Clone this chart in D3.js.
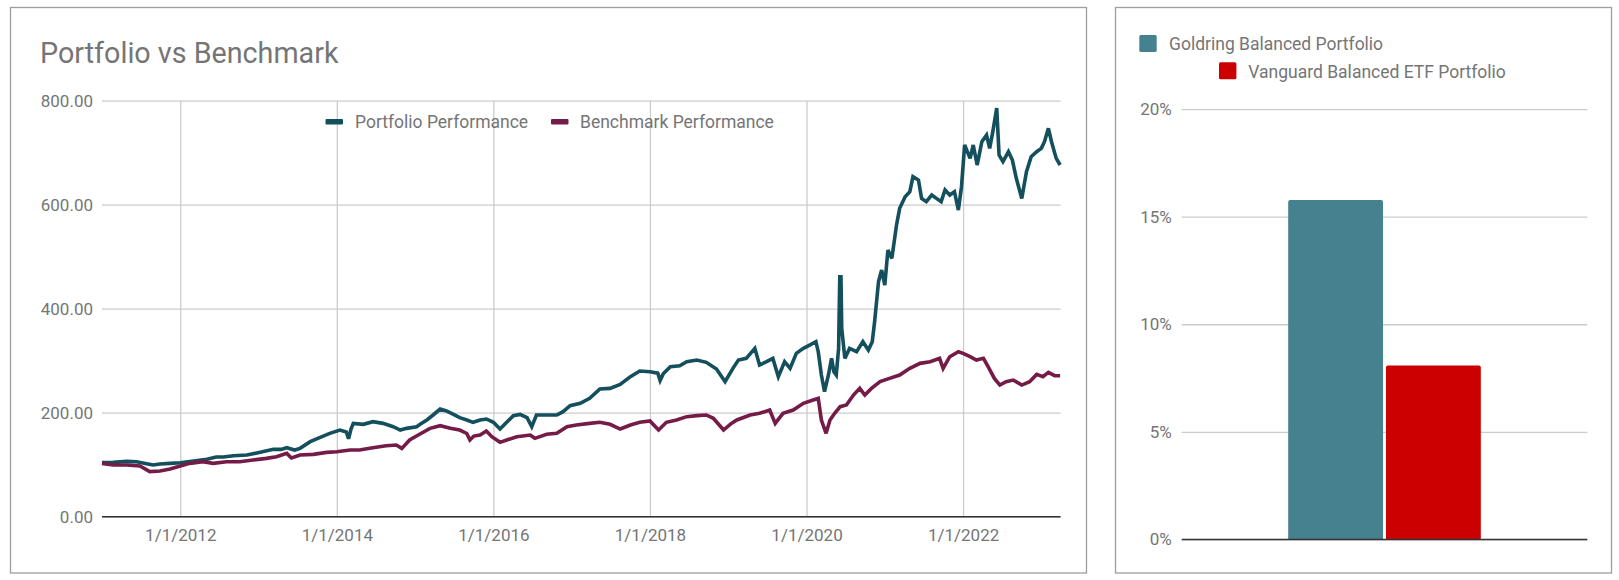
<!DOCTYPE html>
<html>
<head>
<meta charset="utf-8">
<script src="https://cdn.jsdelivr.net/npm/d3@7"></script>
<style>
  html, body { margin: 0; padding: 0; background: #fff; }
  svg { display: block; font-family: Roboto, "Noto Sans", sans-serif; }
</style>
</head>
<body>
<svg id="chart" width="1619" height="580"></svg>
<script>
// ---------- DATA ----------
const lineTitle = "Portfolio vs Benchmark";
const lineSeriesNames = ["Portfolio Performance", "Benchmark Performance"];
const yTicksLine = [0, 200, 400, 600, 800];
const xTickYears = [2012, 2014, 2016, 2018, 2020, 2022];
const xDomainYears = [2011.0, 2023.246];   // first and last trading day (decimal years)

// [decimal year, value]
const portfolio = [
  [2011.0,103.9],[2011.145,104.5],[2011.315,106.4],[2011.44,105.8],[2011.57,102],[2011.655,99.4],
  [2011.74,101.3],[2011.87,102.6],[2012.0,103.9],[2012.17,107.1],[2012.34,110.3],[2012.46,114.8],
  [2012.55,114.8],[2012.68,117.3],[2012.85,118.6],[2013.02,123.8],[2013.19,129.5],[2013.29,129.5],
  [2013.36,132.7],[2013.46,128.2],[2013.53,131.4],[2013.66,144.3],[2013.78,152],[2013.91,160.3],
  [2014.04,166.7],[2014.12,163],[2014.15,150],[2014.18,168],[2014.21,179.5],[2014.34,177.6],
  [2014.46,182.7],[2014.59,179.5],[2014.72,173.1],[2014.81,166.7],[2014.89,169.9],[2015.02,173.1],
  [2015.064,177.6],[2015.15,186],[2015.23,195.6],[2015.32,207.1],[2015.40,203.3],[2015.49,196.8],
  [2015.57,190.4],[2015.66,186],[2015.74,181.5],[2015.83,186],[2015.91,187.9],[2016.0,181.5],
  [2016.085,168.6],[2016.17,181.5],[2016.255,194.3],[2016.34,196.8],[2016.43,190.4],[2016.49,173.1],
  [2016.55,195.6],[2016.68,195.6],[2016.81,195.6],[2016.89,202],[2016.98,213.5],[2017.11,218],
  [2017.23,227.6],[2017.36,245.6],[2017.49,246.8],[2017.62,254.5],[2017.75,269.3],[2017.87,280.2],
  [2018.0,278.9],[2018.1,276],[2018.13,262],[2018.17,275],[2018.26,288.5],[2018.38,290.4],
  [2018.47,298.1],[2018.60,301.3],[2018.72,296.8],[2018.85,284],[2018.96,259.7],[2019.06,285.3],
  [2019.13,301.3],[2019.23,304.5],[2019.34,323.7],[2019.40,291.7],[2019.49,298.1],[2019.57,304.5],
  [2019.64,269.3],[2019.72,298.1],[2019.79,285.3],[2019.87,314.1],[2019.96,323.7],[2020.04,330.1],
  [2020.12,336.6],[2020.15,317.3],[2020.19,272.5],[2020.23,240.4],[2020.28,272.5],[2020.32,304.5],
  [2020.35,278.9],[2020.38,272.5],[2020.41,323.7],[2020.425,461.5],[2020.44,461.5],[2020.45,362.2],
  [2020.49,304.5],[2020.55,323.7],[2020.64,317.3],[2020.72,336.6],[2020.79,320.5],[2020.84,336.6],
  [2020.87,375],[2020.92,452],[2020.96,474.4],[2021.0,445.5],[2021.04,512.8],[2021.09,496.8],
  [2021.15,560.9],[2021.19,593],[2021.26,615.4],[2021.32,625],[2021.36,653.9],[2021.43,647.4],
  [2021.47,612.2],[2021.53,605.8],[2021.60,618.6],[2021.66,612.2],[2021.72,605.8],[2021.77,628.2],
  [2021.83,618.6],[2021.89,625],[2021.94,589.8],[2021.98,634.6],[2022.02,714.8],[2022.09,689.1],
  [2022.13,714.8],[2022.18,676.3],[2022.24,721.2],[2022.30,734],[2022.34,708.3],[2022.38,740.4],
  [2022.43,786],[2022.46,695.5],[2022.51,682.7],[2022.58,701.9],[2022.63,685.9],[2022.68,650.7],
  [2022.75,612],[2022.81,663.5],[2022.87,692.3],[2022.94,701.9],[2023.0,708.3],[2023.04,721.2],
  [2023.09,746.8],[2023.13,721.2],[2023.19,689.1],[2023.24,676.3]
];

const benchmark = [
  [2011.0,102.6],[2011.145,99.4],[2011.315,99.4],[2011.485,97.5],[2011.61,86.6],[2011.74,87.9],
  [2011.87,91.7],[2012.0,97.5],[2012.12,102.6],[2012.29,105.8],[2012.42,102.6],[2012.59,105.8],
  [2012.76,105.8],[2012.93,109],[2013.10,112.2],[2013.23,115.4],[2013.36,121.8],[2013.42,113],
  [2013.53,118.6],[2013.70,119.9],[2013.87,123.7],[2014.0,125],[2014.17,128.2],[2014.29,128.2],
  [2014.46,132.7],[2014.63,136.6],[2014.76,137.9],[2014.83,131.4],[2014.93,147.5],[2015.04,157.1],
  [2015.19,169.9],[2015.32,175],[2015.45,169.9],[2015.57,166.7],[2015.66,160],[2015.70,147.5],
  [2015.75,155],[2015.83,157.1],[2015.91,164.8],[2015.98,153.9],[2016.085,143],[2016.17,147.5],
  [2016.30,153.9],[2016.47,157.1],[2016.53,150.7],[2016.68,158.4],[2016.81,160.3],[2016.94,173.1],
  [2017.06,176.3],[2017.23,179.5],[2017.36,181.5],[2017.49,177.6],[2017.62,168.6],[2017.75,176.3],
  [2017.87,181.5],[2018.0,184],[2018.11,166.7],[2018.21,181.5],[2018.34,186],[2018.47,192.4],
  [2018.60,194.3],[2018.72,195.6],[2018.81,189.2],[2018.94,166.7],[2019.04,179.5],[2019.11,186],
  [2019.28,195.6],[2019.40,198.8],[2019.53,205.2],[2019.60,179.5],[2019.70,198.8],[2019.83,205.2],
  [2019.96,218],[2020.085,224.4],[2020.15,227.6],[2020.19,185.9],[2020.25,160.3],[2020.30,185.9],
  [2020.36,198.8],[2020.43,211.6],[2020.51,214.8],[2020.60,234],[2020.68,246.8],[2020.745,234],
  [2020.83,246.8],[2020.94,259.7],[2021.06,266],[2021.19,272.5],[2021.32,285.3],[2021.45,294.9],
  [2021.58,298.1],[2021.70,304.5],[2021.745,285.3],[2021.83,307.7],[2021.94,317.3],[2022.0,314.1],
  [2022.09,307.7],[2022.17,301.3],[2022.26,304.5],[2022.32,288.5],[2022.40,266],[2022.47,253.2],
  [2022.55,259.7],[2022.64,262.8],[2022.75,253.2],[2022.85,259.7],[2022.94,273.7],[2023.02,269.3],
  [2023.09,277.6],[2023.17,271.2],[2023.24,271.2]
];

const barSeries = ["Goldring Balanced Portfolio", "Vanguard Balanced ETF Portfolio"];
const barValues = [15.78, 8.08];
const yTicksBar = [0, 5, 10, 15, 20];

// ---------- STYLE ----------
const textColor = "#757575";
const gridColor = "#cccccc";
const lineColors = ["#134f5c", "#741b47"];
const barColors = ["#45818e", "#cc0000"];
const borderColor = "#9e9e9e";

const svg = d3.select("#chart");

// panel borders
svg.append("rect").attr("x", 10.5).attr("y", 7.5).attr("width", 1076).attr("height", 565.5)
  .attr("fill", "#fff").attr("stroke", borderColor).attr("stroke-width", 1.3);
svg.append("rect").attr("x", 1115.5).attr("y", 7.5).attr("width", 496).attr("height", 565.5)
  .attr("fill", "#fff").attr("stroke", borderColor).attr("stroke-width", 1.3);

// ---------- LINE CHART ----------
const L = { left: 102, right: 1060.6, top: 100.7, bottom: 516.7 };
const x = d3.scaleLinear().domain(xDomainYears).range([L.left, L.right]);
const y = d3.scaleLinear().domain([0, 800]).range([L.bottom, L.top]);

const gL = svg.append("g");

gL.append("text").attr("x", 40).attr("y", 63).attr("font-size", 28.7).attr("fill", textColor)
  .text(lineTitle);

const yAxisL = d3.axisLeft(y).tickValues(yTicksLine).tickSize(-(L.right - L.left))
  .tickPadding(9).tickFormat(d3.format(".2f"));
gL.append("g").attr("transform", `translate(${L.left},0)`).call(yAxisL)
  .call(g => g.select(".domain").remove())
  .call(g => g.selectAll("line").attr("stroke", gridColor).attr("stroke-width", 1.3))
  .call(g => g.selectAll("text").attr("fill", textColor).attr("font-size", 17)
    .attr("font-family", "Roboto"));

const xAxisL = d3.axisBottom(x).tickValues(xTickYears)
  .tickSize(-(L.bottom - L.top)).tickPadding(12).tickFormat(d => "1/1/" + d);
gL.append("g").attr("transform", `translate(0,${L.bottom})`).call(xAxisL)
  .call(g => g.select(".domain").remove())
  .call(g => g.selectAll("line").attr("stroke", gridColor).attr("stroke-width", 1.3))
  .call(g => g.selectAll("text").attr("fill", textColor).attr("font-size", 17)
    .attr("font-family", "Roboto"));

gL.append("line").attr("x1", L.left).attr("x2", L.right)
  .attr("y1", y(0)).attr("y2", y(0)).attr("stroke", "#333").attr("stroke-width", 1.5);

const line = d3.line().x(d => x(d[0])).y(d => y(d[1]));
[portfolio, benchmark].forEach((s, i) => {
  gL.append("path").datum(s).attr("d", line).attr("fill", "none")
    .attr("stroke", lineColors[i]).attr("stroke-width", 3.6)
    .attr("stroke-linejoin", "miter").attr("stroke-miterlimit", 3);
});

const legL = [{x: 325.5, tx: 355}, {x: 551, tx: 580}];
lineSeriesNames.forEach((n, i) => {
  gL.append("rect").attr("x", legL[i].x).attr("y", 119).attr("width", 17.5).attr("height", 5.5)
    .attr("rx", 1).attr("fill", lineColors[i]);
  gL.append("text").attr("x", legL[i].tx).attr("y", 128).attr("font-size", 17.5)
    .attr("fill", textColor).text(n);
});

// ---------- BAR CHART ----------
const B = { left: 1181.7, right: 1587.3, top: 109.1, bottom: 539.4 };
const yb = d3.scaleLinear().domain([0, 20]).range([B.bottom, B.top]);
const x0 = d3.scaleBand().domain([""]).range([B.left, B.right]).paddingInner(0.356).paddingOuter(0.356);
const x1 = d3.scaleBand().domain(barSeries).range([0, x0.bandwidth()]).paddingInner(0.03);

const gB = svg.append("g");
const yAxisB = d3.axisLeft(yb).tickValues(yTicksBar).tickSize(-(B.right - B.left))
  .tickPadding(10).tickFormat(d => d + "%");
gB.append("g").attr("transform", `translate(${B.left},0)`).call(yAxisB)
  .call(g => g.select(".domain").remove())
  .call(g => g.selectAll("line").attr("stroke", gridColor).attr("stroke-width", 1.3))
  .call(g => g.selectAll("text").attr("fill", textColor).attr("font-size", 17)
    .attr("font-family", "Roboto"));

const r = 2;
barSeries.forEach((s, i) => {
  const bx = x0("") + x1(s), bw = x1.bandwidth(), top = yb(barValues[i]), bot = yb(0);
  const p = `M${bx},${bot} V${top + r} Q${bx},${top} ${bx + r},${top} H${bx + bw - r} Q${bx + bw},${top} ${bx + bw},${top + r} V${bot} Z`;
  gB.append("path").attr("d", p).attr("fill", barColors[i]);
});

gB.append("line").attr("x1", B.left).attr("x2", B.right)
  .attr("y1", yb(0)).attr("y2", yb(0)).attr("stroke", "#333").attr("stroke-width", 1.5);

const legB = [{x: 1139.3, y: 35.1, tx: 1169, ty: 50}, {x: 1219, y: 62.2, tx: 1248.3, ty: 77.7}];
barSeries.forEach((n, i) => {
  gB.append("rect").attr("x", legB[i].x).attr("y", legB[i].y).attr("width", 17.4).attr("height", 17)
    .attr("rx", 1.5).attr("fill", barColors[i]);
  gB.append("text").attr("x", legB[i].tx).attr("y", legB[i].ty).attr("font-size", 17.5)
    .attr("fill", textColor).text(n);
});
</script>
</body>
</html>
